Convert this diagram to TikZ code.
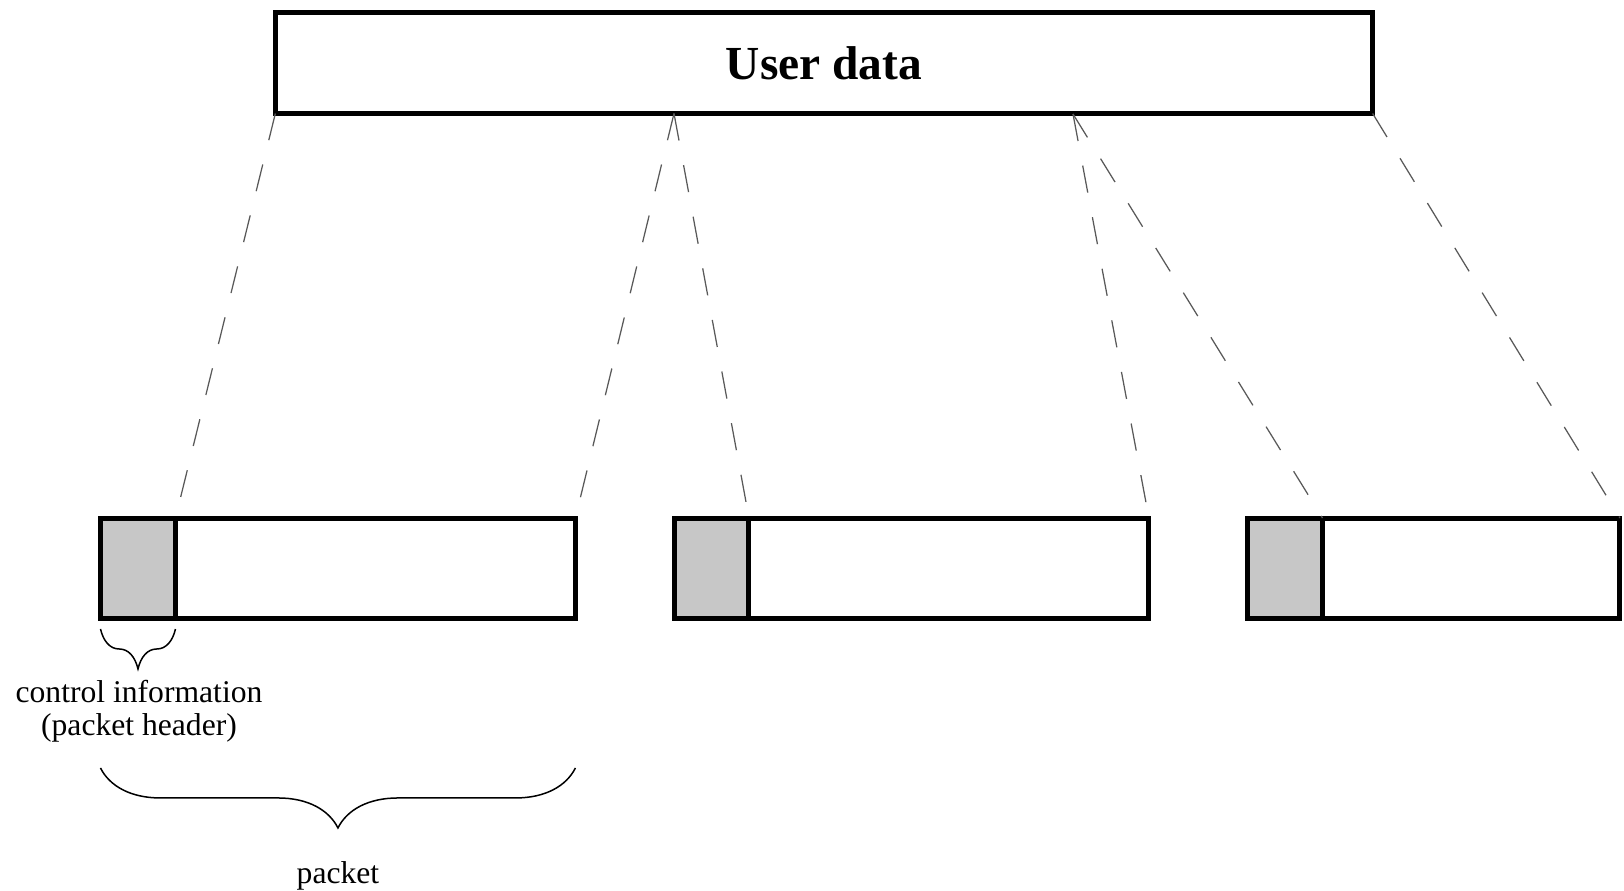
\documentclass[tikz,border=0pt]{standalone}
\usepackage{fontspec}
\setmainfont{Liberation Serif}
\usetikzlibrary{positioning,decorations.pathreplacing}

\begin{document}
\begin{tikzpicture}[
    x=0.02cm, y=-0.02cm,
    databox/.style={draw, line width=0.1cm, outer sep=0pt, inner sep=0pt, minimum width=21.95cm, minimum height=2.02cm, font=\fontsize{27}{32}\selectfont\bfseries},
    hdr/.style={draw, line width=0.1cm, outer sep=0pt, inner sep=0pt, fill=black!22, minimum width=1.5cm, minimum height=2cm},
    body/.style={draw, line width=0.1cm, outer sep=0pt, inner sep=0pt, minimum width=8cm, minimum height=2cm},
    dashln/.style={draw=black!65, line width=0.025cm, dash pattern=on 0.55cm off 0.5cm},
    brc/.style={draw, line width=0.03cm, decorate},
    lbl/.style={font=\fontsize{18}{18.8}\selectfont, align=center},
]
\useasboundingbox (0,0) rectangle (1624,890);

% --- User data ---
\node[databox] (ud) at (824,63) {User data};

% --- Packets: header + payload ---
\node[hdr, anchor=west] (hd1) at (100.5,568) {};
\node[body, right=0pt of hd1] (bd1) {};

\node[hdr, anchor=west] (hd2) at (674,568) {};
\node[body, right=0pt of hd2] (bd2) {};

\node[hdr, anchor=west] (hd3) at (1247.5,568) {};
\node[body, right=0pt of hd3, minimum width=5.95cm] (bd3) {};

% --- Split points on the user data ---
\coordinate (ud2) at (hd2.west |- ud.south);
\coordinate (ud3) at (1073,114);

% === Dashed lines: user data to packets ===
\draw[dashln] (ud.south west) -- (hd1.north east);
\draw[dashln] (ud2) -- (bd1.north east);
\draw[dashln] (ud2) -- (hd2.north east);
\draw[dashln] (ud3) -- (bd2.north east);
\draw[dashln] (ud3) -- (hd3.north east);
\draw[dashln] (ud.south east) -- (bd3.north east);

% === Braces ===
\draw[brc, decoration={brace, mirror, amplitude=0.8cm}]
    ([yshift=-0.22cm]hd1.south west) -- ([yshift=-0.22cm]hd1.south east);
\draw[brc, decoration={brace, mirror, amplitude=1.2cm}]
    ([yshift=-3cm]hd1.south west) -- ([yshift=-3cm]bd1.south east);

% === Labels ===
\node[lbl] (ctl) at (139,711) {control information\\(packet header)};
\node[lbl] (pkt) at (338,876) {packet};

\end{tikzpicture}
\end{document}
